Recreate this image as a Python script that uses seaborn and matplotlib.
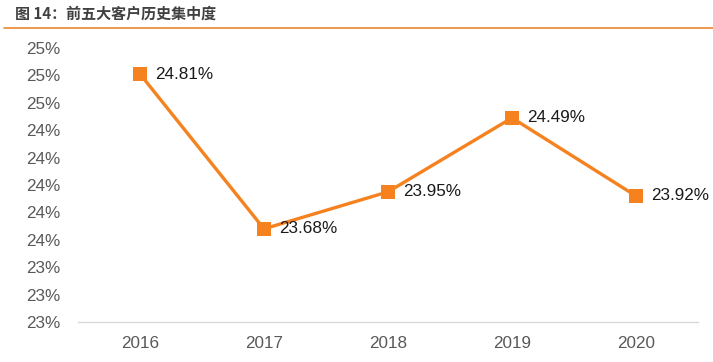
import numpy as np
import pandas as pd
import matplotlib
matplotlib.use('Agg')
import matplotlib.pyplot as plt
import matplotlib.ticker as mticker
import seaborn as sns

# 数据
years = ['2016', '2017', '2018', '2019', '2020']
concentration = [24.81, 23.68, 23.95, 24.49, 23.92]
labels = ['24.81%', '23.68%', '23.95%', '24.49%', '23.92%']

df = pd.DataFrame({'年份': years, '集中度': concentration})

sns.set_style('white')
plt.rcParams['font.family'] = ['Liberation Sans', 'Noto Sans CJK SC', 'DejaVu Sans']

orange = '#F5821F'

fig = plt.figure(figsize=(7.13, 3.62), dpi=100)
ax = fig.add_axes([78 / 713, 1 - 322 / 362, 620 / 713, 274 / 362])

sns.lineplot(x='年份', y='集中度', data=df, color=orange, lw=2.4,
             marker='s', markersize=9.5, markeredgewidth=0, ax=ax)

for i, (v, t) in enumerate(zip(concentration, labels)):
    ax.annotate(t, (i, v), xytext=(11, 0), textcoords='offset points',
                va='center', ha='left', fontsize=12.3, color='#1a1a1a')

ax.set_xlim(-0.5, 4.5)
ax.set_ylim(23.0, 25.0)
ax.set_yticks(np.arange(23.0, 25.01, 0.2))
ax.yaxis.set_major_formatter(mticker.FormatStrFormatter('%.0f%%'))
ax.set_xlabel('')
ax.set_ylabel('')
ax.tick_params(axis='both', length=0, labelsize=12.3, labelcolor='#595959')
ax.tick_params(axis='y', pad=13)
ax.tick_params(axis='x', pad=10)
for s in ['top', 'right', 'left']:
    ax.spines[s].set_visible(False)
ax.spines['bottom'].set_color('#d9d9d9')
ax.spines['bottom'].set_linewidth(1)

# 标题与橙色分隔线
fig.text(15 / 713, 1 - 14 / 362, '图 14：前五大客户历史集中度', fontsize=10.8,
         fontweight='bold', color='#404040', va='center', ha='left',
         family=['Noto Sans CJK SC', 'DejaVu Sans'])
fig.add_artist(plt.Line2D([4 / 713, 1], [1 - 27.5 / 362, 1 - 27.5 / 362],
                          color='#E8862F', lw=1.2, transform=fig.transFigure))

plt.savefig('out.png', dpi=100)
